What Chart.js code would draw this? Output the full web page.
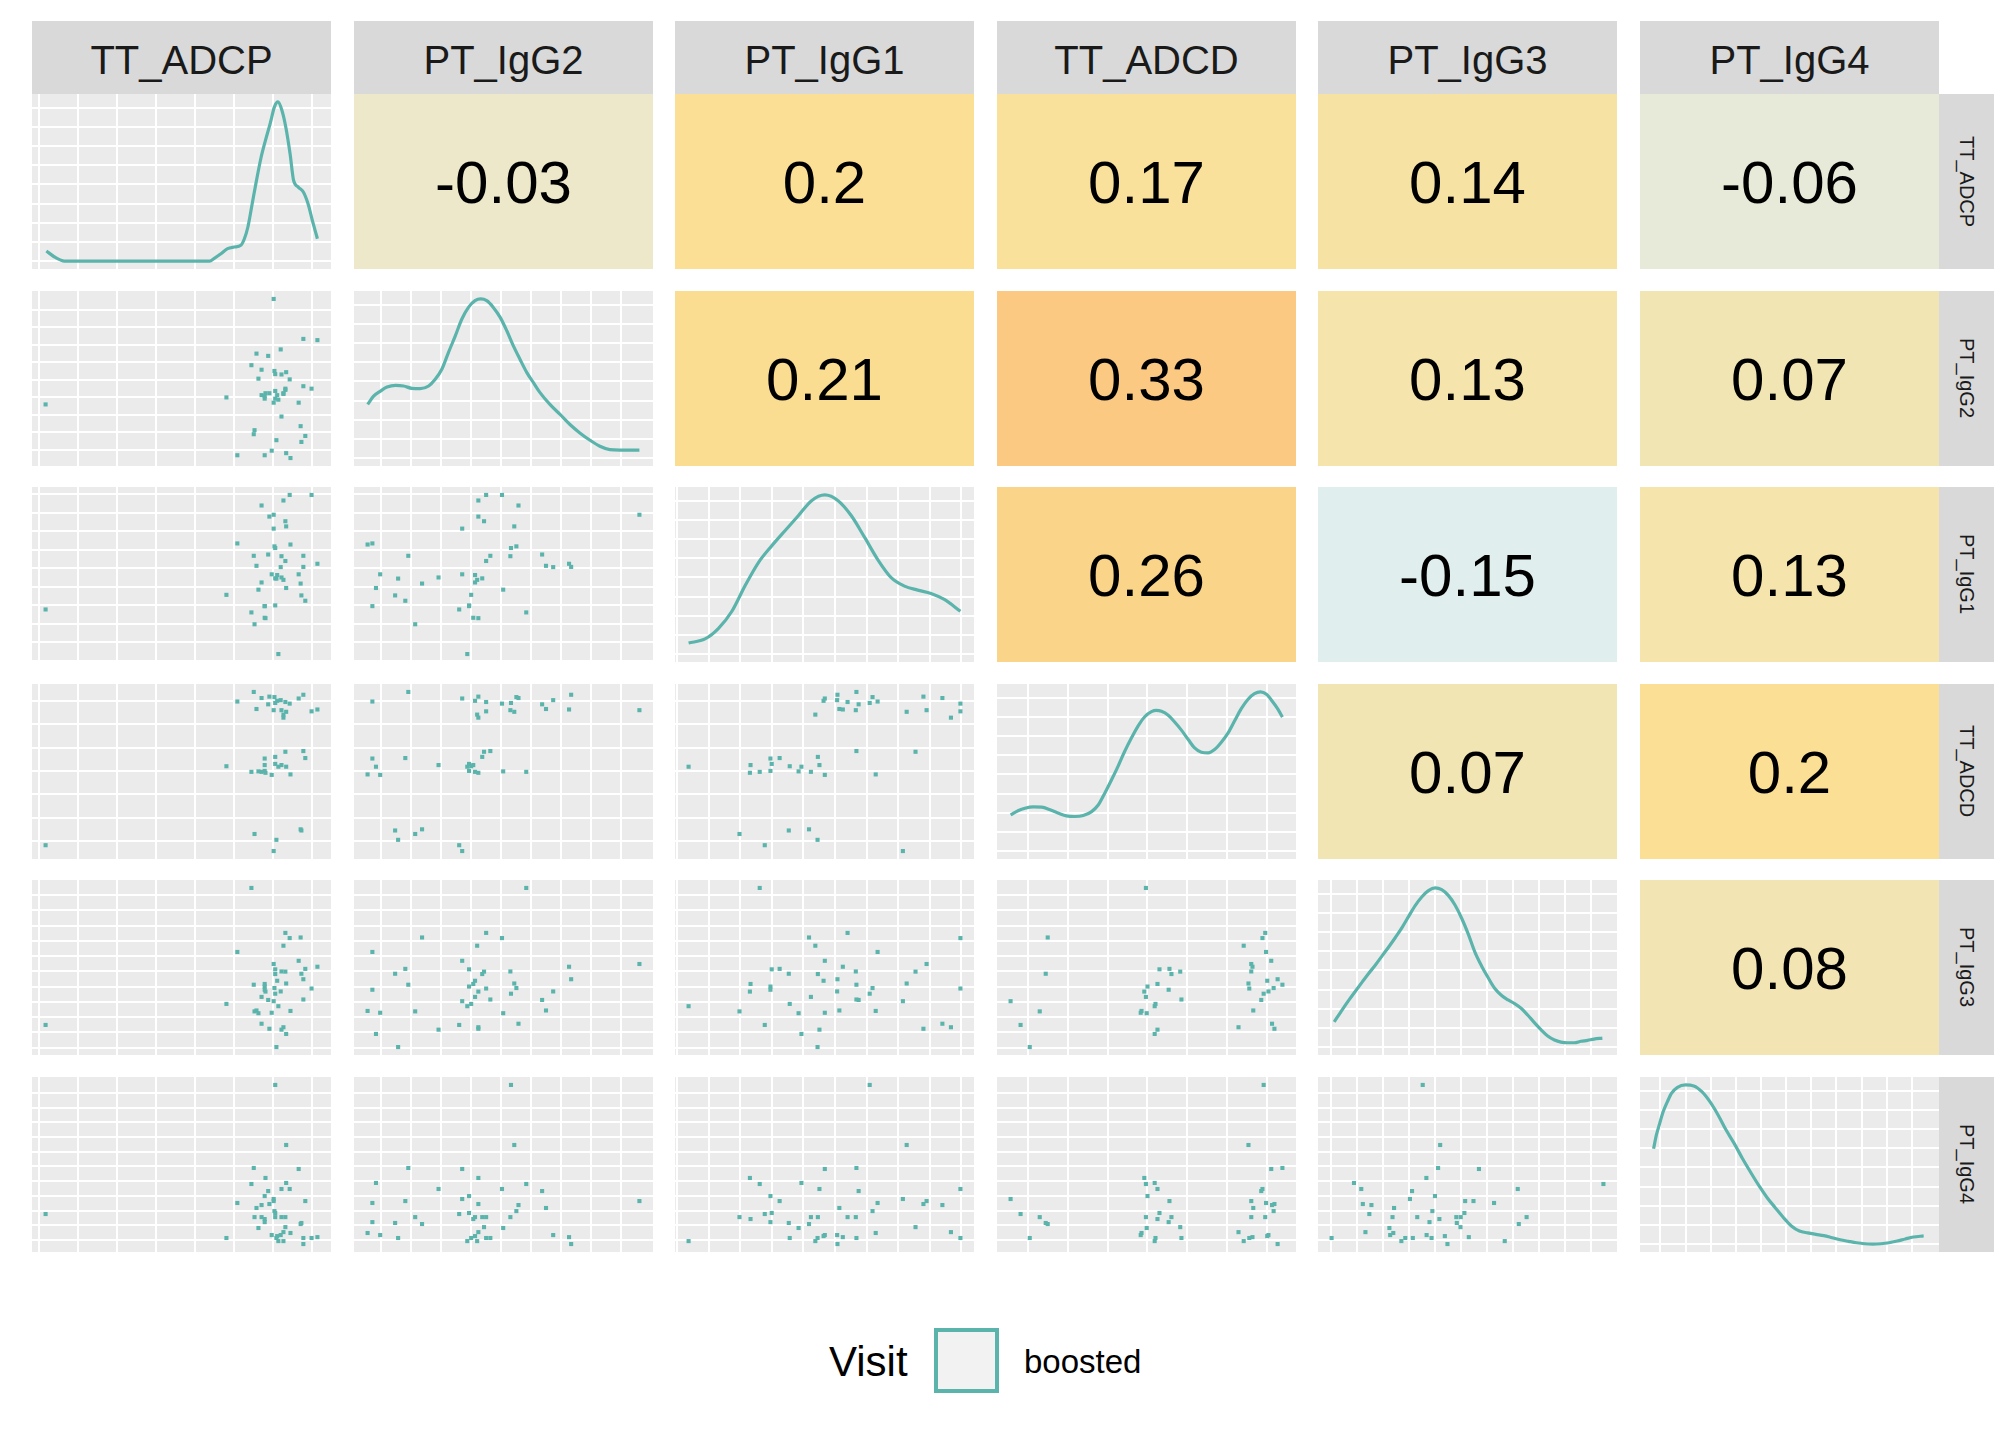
<!DOCTYPE html>
<html>
<head>
<meta charset="utf-8">
<script src="https://cdn.jsdelivr.net/npm/chart.js@4.4.1/dist/chart.umd.min.js"></script>
<style>
  html, body { margin: 0; padding: 0; background: #ffffff; }
  body { width: 2016px; height: 1440px; position: relative; overflow: hidden;
         font-family: "Liberation Sans", Arial, sans-serif; }
  .cell { position: absolute; }
  .strip { position: absolute; background: #D9D9D9; color: #1A1A1A;
           display: flex; align-items: center; justify-content: center; box-sizing: border-box; }
  .strip.top { font-size: 40px; padding-top: 6px; }
  .strip.side span { writing-mode: vertical-rl; font-size: 20px; }
  .legend { position: absolute; color: #000; white-space: nowrap; }
</style>
</head>
<body>
<script>
document.addEventListener("DOMContentLoaded", () => {

    // --- Data (axis units) ---
    const variables = ['TT_ADCP', 'PT_IgG2', 'PT_IgG1', 'TT_ADCD', 'PT_IgG3', 'PT_IgG4'];

    // one value per sample, same sample order in every array
    const ttADCP = [7.06, 7.34, 6.51, 7.66, 6.81, 7.34, 6.45, 7.22, 7.43, 6.88, 6.79, 7.02, 7.83, 7.02, 6.09,
                    6.91, 6.71, 6.58, 7.04, 7.06, 1.18, 6.53, 6.71, 7.06, 7.22, 7.32, 6.79, 6.79, 7.73, 7.71,
                    7.32, 6.63, 7.27, 7.45, 6.97, 7.20, 7.11, 8.14, 7.09, 5.81, 7.78, 7.99, 7.14, 7.27, 7.78];
    const ptIgG2 = [5.33, 5.44, 1.90, 3.70, 4.24, 0.82, 5.84, 2.91, 5.03, 6.37, 3.93, 3.70, 1.80, 9.62, 0.70,
                    4.24, 5.58, 6.50, 5.51, 3.93, 3.60, 2.13, 4.13, 4.37, 5.31, 4.50, 4.07, 0.70, 1.46, 2.36,
                    4.43, 5.07, 4.24, 0.54, 0.96, 6.74, 4.13, 7.27, 1.56, 4.00, 4.64, 4.50, 3.87, 4.20, 7.34];
    const ptIgG1 = [7.10, 8.27, 6.68, 5.68, 3.31, 4.94, 3.62, 5.51, 9.97, 6.75, 3.96, 8.15, 4.25, 8.90, 7.35,
                    8.80, 9.40, 6.14, 7.19, 4.00, 3.78, 2.98, 5.24, 5.46, 6.66, 6.40, 3.33, 3.96, 4.54, 5.18,
                    8.55, 4.85, 9.67, 7.29, 5.68, 6.07, 5.64, 6.25, 5.45, 4.57, 6.68, 9.97, 1.37, 5.38, 6.08];
    const ttADCD = [6.91, 6.53, 7.38, 7.10, 3.92, 4.18, 3.96, 4.25, 6.88, 6.85, 4.00, 0.57, 4.55, 6.60, 6.97,
                    7.18, 7.12, 6.65, 7.16, 4.30, 0.82, 1.30, 3.96, 4.60, 6.60, 6.95, 4.25, 4.53, 1.45, 1.50,
                    4.82, 3.98, 6.28, 3.85, 3.83, 7.03, 7.00, 6.63, 1.05, 4.20, 4.85, 6.55, 4.18, 6.41, 7.26];
    const ptIgG3 = [4.53, 5.20, 5.12, 6.69, 4.67, 1.89, 11.47, 2.17, 8.18, 4.12, 5.00, 4.04, 6.16, 6.48, 7.27,
                    2.23, 2.56, 3.43, 4.90, 6.13, 2.48, 3.37, 4.32, 5.82, 5.99, 8.52, 5.17, 4.79, 5.84, 8.22,
                    5.98, 3.25, 2.33, 3.40, 3.28, 4.68, 5.38, 6.30, 1.03, 3.86, 4.15, 4.87, 3.71, 7.68, 5.48];
    const ptIgG4 = [11.54, 7.46, 5.90, 5.83, 5.22, 4.88, 4.81, 4.47, 4.47, 4.33, 3.99, 3.79, 3.65, 3.65, 3.52,
                    3.45, 3.38, 3.18, 2.97, 2.84, 2.77, 2.56, 2.56, 2.56, 2.56, 2.56, 2.43, 2.22, 2.16, 2.09,
                    1.88, 1.82, 1.54, 1.48, 1.34, 1.34, 1.27, 1.20, 1.14, 1.14, 1.14, 1.14, 0.93, 0.93, 0.73];

    // grid breaks for each variable
    const ticksADCP = [1, 2, 3, 4, 5, 6, 7, 8];
    const ticksIgG2 = [1, 2, 3, 4, 5, 6, 7, 8, 9];
    const ticksIgG1 = [1, 2, 3, 4, 5, 6, 7, 8, 9, 10];
    const ticksADCD = [1, 2, 3, 4, 5, 6, 7];
    const ticksIgG3 = [1, 2, 3, 4, 5, 6, 7, 8, 9, 10, 11];
    const ticksIgG4 = [1, 2, 3, 4, 5, 6, 7, 8, 9, 10, 11];

    // density curves on the diagonal (relative density)
    const densXADCP = [1.20, 1.44, 1.66, 2.50, 3.50, 4.50, 5.38, 5.49, 5.67, 5.84, 6.01, 6.18, 6.27, 6.36, 6.47,
                       6.58, 6.70, 6.81, 6.93, 7.04, 7.13, 7.23, 7.33, 7.44, 7.53, 7.65, 7.78, 7.90, 8.01, 8.14];
    const densYADCP = [0.063, 0.021, 0.0, 0.0, 0.0, 0.0, 0.0, 0.015, 0.046, 0.078, 0.088, 0.099, 0.14, 0.214, 0.36,
                       0.507, 0.654, 0.759, 0.864, 0.969, 1.0, 0.948, 0.843, 0.675, 0.507, 0.465, 0.434, 0.36, 0.256, 0.14];
    const densXIgG2 = [0.54, 0.74, 0.97, 1.19, 1.47, 1.74, 2.02, 2.30, 2.58, 2.80, 3.02, 3.24, 3.47, 3.69, 3.91,
                       4.13, 4.32, 4.52, 4.74, 4.97, 5.19, 5.41, 5.63, 5.86, 6.08, 6.30, 6.63, 6.97, 7.30, 7.63,
                       7.97, 8.30, 8.63, 8.97, 9.30, 9.62];
    const densYIgG2 = [0.337, 0.389, 0.421, 0.446, 0.457, 0.453, 0.438, 0.436, 0.453, 0.495, 0.558, 0.663, 0.768, 0.874, 0.947,
                       0.989, 1.0, 0.989, 0.947, 0.884, 0.8, 0.705, 0.621, 0.537, 0.474, 0.411, 0.337, 0.274, 0.211, 0.158,
                       0.112, 0.074, 0.053, 0.05, 0.05, 0.05];
    const densXIgG1 = [1.37, 1.89, 2.31, 2.74, 3.15, 3.58, 4.00, 4.42, 4.84, 5.26, 5.68, 6.10, 6.52, 6.94, 7.36,
                       7.78, 8.20, 8.62, 9.04, 9.46, 9.97];
    const densYIgG1 = [0.069, 0.095, 0.16, 0.269, 0.427, 0.575, 0.68, 0.775, 0.869, 0.964, 1.0, 0.964, 0.869, 0.733, 0.592,
                       0.48, 0.427, 0.402, 0.381, 0.343, 0.269];
    const densXADCD = [0.57, 0.77, 0.93, 1.14, 1.35, 1.56, 1.77, 1.97, 2.18, 2.39, 2.60, 2.77, 2.93, 3.10, 3.27,
                       3.43, 3.60, 3.77, 3.93, 4.10, 4.22, 4.35, 4.52, 4.68, 4.85, 5.02, 5.18, 5.35, 5.52, 5.68,
                       5.85, 6.02, 6.18, 6.35, 6.52, 6.68, 6.83, 6.98, 7.14, 7.27, 7.38];
    const densYADCD = [0.227, 0.255, 0.269, 0.278, 0.276, 0.259, 0.238, 0.221, 0.217, 0.223, 0.248, 0.291, 0.364, 0.448, 0.537,
                       0.627, 0.712, 0.789, 0.844, 0.876, 0.884, 0.878, 0.853, 0.811, 0.76, 0.701, 0.648, 0.621, 0.617, 0.638,
                       0.684, 0.743, 0.817, 0.895, 0.954, 0.989, 1.0, 0.985, 0.937, 0.891, 0.842];
    const densXIgG3 = [1.13, 1.45, 1.70, 1.95, 2.21, 2.46, 2.72, 2.97, 3.23, 3.48, 3.74, 3.99, 4.24, 4.50, 4.75,
                       5.01, 5.26, 5.52, 5.77, 6.03, 6.28, 6.53, 6.79, 7.04, 7.30, 7.55, 7.81, 8.06, 8.32, 8.57,
                       8.82, 9.08, 9.33, 9.59, 9.84, 10.10, 10.35, 10.61, 10.86, 11.11, 11.43];
    const densYIgG3 = [0.157, 0.236, 0.295, 0.351, 0.408, 0.462, 0.515, 0.571, 0.628, 0.686, 0.749, 0.818, 0.885, 0.941, 0.979,
                       0.996, 0.985, 0.948, 0.889, 0.805, 0.707, 0.596, 0.508, 0.435, 0.366, 0.324, 0.295, 0.272, 0.241, 0.199,
                       0.153, 0.107, 0.069, 0.044, 0.031, 0.027, 0.027, 0.036, 0.042, 0.05, 0.056];
    const densXIgG4 = [0.73, 0.84, 0.97, 1.11, 1.28, 1.44, 1.68, 2.00, 2.33, 2.65, 2.97, 3.30, 3.62, 3.94, 4.27,
                       4.59, 4.92, 5.24, 5.56, 5.89, 6.21, 6.53, 6.86, 7.18, 7.50, 7.83, 8.15, 8.48, 8.80, 9.12,
                       9.45, 9.77, 10.09, 10.42, 10.74, 11.06, 11.47];
    const densYIgG4 = [0.599, 0.684, 0.757, 0.831, 0.895, 0.947, 0.985, 1.0, 0.994, 0.958, 0.895, 0.81, 0.715, 0.631, 0.536,
                       0.451, 0.367, 0.293, 0.23, 0.167, 0.114, 0.082, 0.07, 0.061, 0.053, 0.04, 0.027, 0.017, 0.008, 0.002,
                       0.0, 0.002, 0.008, 0.019, 0.032, 0.044, 0.051];

    // correlations, upper triangle, row by row
    const corrRow1 = [-0.03, 0.2, 0.17, 0.14, -0.06];
    const corrRow2 = [0.21, 0.33, 0.13, 0.07];
    const corrRow3 = [0.26, -0.15, 0.13];
    const corrRow4 = [0.07, 0.2];
    const corrRow5 = [0.08];

    const legendTitle = 'Visit';
    const legendLabels = ['boosted'];

    // --- Layout and style ---
    const TEAL = '#5AB4AC';
    const PANEL_BG = '#EBEBEB';
    const colLeft = [32, 354, 675, 997, 1318, 1640];
    const rowTop = [94, 291, 487, 684, 880, 1077];
    const W = 299, H = 175;
    const FONT = '"Liberation Sans", Arial, sans-serif';

    const values = [ttADCP, ptIgG2, ptIgG1, ttADCD, ptIgG3, ptIgG4];
    const breaks = [ticksADCP, ticksIgG2, ticksIgG1, ticksADCD, ticksIgG3, ticksIgG4];
    const densX = [densXADCP, densXIgG2, densXIgG1, densXADCD, densXIgG3, densXIgG4];
    const densY = [densYADCP, densYIgG2, densYIgG1, densYADCD, densYIgG3, densYIgG4];
    const corr = [corrRow1, corrRow2, corrRow3, corrRow4, corrRow5];

    // tile fill colour scale
    const fillStops = [[-0.15, '#E0EFEE'], [-0.06, '#E7EAD8'], [-0.03, '#EDE8CA'], [0.07, '#F2E5B4'],
                       [0.13, '#F5E4AB'], [0.14, '#F6E3A4'], [0.17, '#F9E19C'], [0.20, '#FBDF94'],
                       [0.26, '#FAD489'], [0.33, '#FBC982']];
    function hexRgb(h) { return [1, 3, 5].map(i => parseInt(h.substr(i, 2), 16)); }
    function fillFor(v) {
        if (v <= fillStops[0][0]) return fillStops[0][1];
        for (let i = 1; i < fillStops.length; i++) {
            if (v <= fillStops[i][0]) {
                const [a, ca] = fillStops[i - 1], [b, cb] = fillStops[i];
                const t = (v - a) / (b - a);
                const p = hexRgb(ca), q = hexRgb(cb);
                return 'rgb(' + p.map((c, k) => Math.round(c + (q[k] - c) * t)).join(',') + ')';
            }
        }
        return fillStops[fillStops.length - 1][1];
    }

    function padRange(lo, hi) { const p = (hi - lo) * 0.05; return [lo - p, hi + p]; }
    const ranges = values.map(v => padRange(Math.min(...v), Math.max(...v)));

    // grey panel background
    const panelBg = {
        id: 'panelBg',
        beforeDraw(chart, args, opts) {
            if (!opts.color) return;
            const a = chart.chartArea, ctx = chart.ctx;
            ctx.save();
            ctx.fillStyle = opts.color;
            ctx.fillRect(a.left, a.top, a.right - a.left, a.bottom - a.top);
            ctx.restore();
        }
    };
    // correlation number in the middle of a tile
    const corrLabel = {
        id: 'corrLabel',
        afterDatasetsDraw(chart, args, opts) {
            if (opts.text == null) return;
            const ctx = chart.ctx, xs = chart.scales.x, ys = chart.scales.y;
            ctx.save();
            ctx.font = '60px ' + FONT;
            ctx.fillStyle = '#000000';
            ctx.textAlign = 'center';
            ctx.textBaseline = 'middle';
            ctx.fillText(opts.text, (xs.left + xs.right) / 2, ys.getPixelForValue(0.5) + 5);
            ctx.restore();
        }
    };
    Chart.register(panelBg, corrLabel);

    function gridScale(lo, hi, ticks) {
        return {
            type: 'linear', min: lo, max: hi,
            ticks: { display: false },
            border: { display: false },
            grid: { color: '#FFFFFF', lineWidth: 2, drawTicks: false },
            afterBuildTicks: ax => { ax.ticks = ticks.map(v => ({ value: v })); }
        };
    }
    const base = {
        responsive: false, animation: false, events: [],
        layout: { padding: 0, autoPadding: false },
    };

    function makeCanvas(left, top) {
        const holder = document.createElement('div');
        holder.className = 'cell';
        holder.style.left = left + 'px';
        holder.style.top = top + 'px';
        holder.style.width = W + 'px';
        holder.style.height = H + 'px';
        const cv = document.createElement('canvas');
        cv.width = W;
        cv.height = H;
        holder.appendChild(cv);
        document.body.appendChild(holder);
        return cv;
    }

    for (let r = 0; r < 6; r++) {
        for (let c = 0; c < 6; c++) {
            const cv = makeCanvas(colLeft[c], rowTop[r]);
            if (r === c) {
                // density on the diagonal
                const ys = densY[c];
                const peak = Math.max(...ys);
                const step = peak / 8.3;
                const yTicks = [];
                for (let v = 0; v <= peak * 1.05; v += step) yTicks.push(v);
                new Chart(cv, {
                    type: 'line',
                    data: { datasets: [{
                        data: densX[c].map((x, i) => ({ x: x, y: ys[i] })),
                        borderColor: TEAL, borderWidth: 3.2, pointRadius: 0,
                        cubicInterpolationMode: 'monotone', fill: false
                    }] },
                    options: Object.assign({}, base, {
                        scales: {
                            x: gridScale(ranges[c][0], ranges[c][1], breaks[c]),
                            y: gridScale(-0.05 * peak, 1.05 * peak, yTicks)
                        },
                        plugins: { legend: { display: false }, tooltip: { enabled: false },
                                   panelBg: { color: PANEL_BG } }
                    })
                });
            } else if (r > c) {
                // scatter below the diagonal
                new Chart(cv, {
                    type: 'scatter',
                    data: { datasets: [{
                        data: values[c].map((x, i) => ({ x: x, y: values[r][i] })),
                        backgroundColor: TEAL, borderWidth: 0,
                        pointStyle: 'rect', pointRadius: 2.9
                    }] },
                    options: Object.assign({}, base, {
                        scales: {
                            x: gridScale(ranges[c][0], ranges[c][1], breaks[c]),
                            y: gridScale(ranges[r][0], ranges[r][1], breaks[r])
                        },
                        plugins: { legend: { display: false }, tooltip: { enabled: false },
                                   panelBg: { color: PANEL_BG } }
                    })
                });
            } else {
                // correlation tile above the diagonal
                const v = corr[r][c - r - 1];
                new Chart(cv, {
                    type: 'bar',
                    data: { labels: [''], datasets: [{
                        data: [1], backgroundColor: fillFor(v), borderWidth: 0,
                        barPercentage: 1, categoryPercentage: 1, inflateAmount: 0
                    }] },
                    options: Object.assign({}, base, {
                        scales: {
                            x: { display: false },
                            y: { display: false, min: 0, max: 1 }
                        },
                        plugins: { legend: { display: false }, tooltip: { enabled: false },
                                   corrLabel: { text: String(v) } }
                    })
                });
            }
        }
    }

    // facet strips
    variables.forEach((name, i) => {
        const top = document.createElement('div');
        top.className = 'strip top';
        Object.assign(top.style, { left: colLeft[i] + 'px', top: '21px', width: W + 'px', height: '73px' });
        top.textContent = name;
        document.body.appendChild(top);

        const side = document.createElement('div');
        side.className = 'strip side';
        Object.assign(side.style, { left: (colLeft[5] + W) + 'px', top: rowTop[i] + 'px', width: '55px', height: H + 'px' });
        const sp = document.createElement('span');
        sp.textContent = name;
        side.appendChild(sp);
        document.body.appendChild(side);
    });

    // legend
    const title = document.createElement('div');
    title.className = 'legend';
    Object.assign(title.style, { left: '829px', top: '1337px', fontSize: '42px', lineHeight: '50px' });
    title.textContent = legendTitle;
    document.body.appendChild(title);

    const key = document.createElement('div');
    Object.assign(key.style, { position: 'absolute', left: '934px', top: '1328px', width: '65px', height: '65px',
        boxSizing: 'border-box', border: '4px solid ' + TEAL, background: '#F2F2F2' });
    document.body.appendChild(key);

    const lab = document.createElement('div');
    lab.className = 'legend';
    Object.assign(lab.style, { left: '1024px', top: '1342px', fontSize: '33px', lineHeight: '40px' });
    lab.textContent = legendLabels[0];
    document.body.appendChild(lab);
});
</script>
</body>
</html>
